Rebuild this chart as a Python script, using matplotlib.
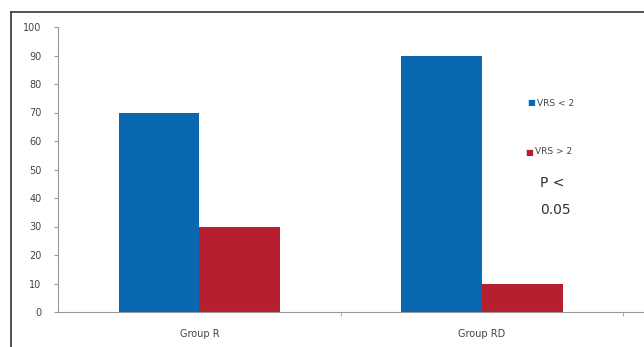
import matplotlib
matplotlib.use('Agg')
import matplotlib.pyplot as plt
from matplotlib.lines import Line2D
import numpy as np

groups = ['Group R', 'Group RD']
vrs_low = [70, 90]
vrs_high = [30, 10]
series_names = ['VRS < 2', 'VRS > 2']
y_ticks = list(range(0, 101, 10))

blue = '#0a68b0'
red = '#b71f31'
grey_txt = '#444444'

fig = plt.figure(figsize=(6.44, 3.47), dpi=100)
fig.patch.set_facecolor('white')

# outer frame: only its top and left edges fall inside the picture
fx, fy = 11 / 644, 1 - 12 / 347
fig.add_artist(Line2D([fx, fx], [0, fy], transform=fig.transFigure,
                      color='#444444', linewidth=1.3))
fig.add_artist(Line2D([fx, 1], [fy, fy], transform=fig.transFigure,
                      color='#444444', linewidth=1.3))

ax = fig.add_axes([58 / 644, 1 - 312 / 347, 1 - 58 / 644, (312 - 27) / 347])

x = np.arange(len(groups))
w = 0.285
ax.bar(x - w / 2, vrs_low, width=w, color=blue, label=series_names[0])
ax.bar(x + w / 2, vrs_high, width=w, color=red, label=series_names[1])

ax.set_ylim(0, 100)
ax.set_xlim(-0.5, 1.573)
ax.set_yticks(y_ticks)
ax.set_yticklabels([str(v) for v in y_ticks], fontsize=7, color=grey_txt)
ax.set_xticks(x)
ax.set_xticklabels(groups, fontsize=7, color=grey_txt)
ax.set_xticks([0.5, 1.5], minor=True)
ax.tick_params(axis='x', which='major', length=0, pad=12)
ax.tick_params(axis='x', which='minor', length=3, color='#999999', direction='out')
ax.tick_params(axis='y', length=3, color='#999999', pad=9)

for s in ['top', 'right']:
    ax.spines[s].set_visible(False)
ax.spines['left'].set_color('#999999')
ax.spines['bottom'].set_color('#999999')
ax.spines['left'].set_bounds(0, 100)

# legend entries
fig.text(527 / 644, 1 - 103 / 347, '\u25a0', color=blue, fontsize=6, va='center')
fig.text(537 / 644, 1 - 103 / 347, series_names[0], color=grey_txt, fontsize=6.5, va='center')
fig.text(525 / 644, 1 - 152 / 347, '\u25a0', color=red, fontsize=6, va='center')
fig.text(535 / 644, 1 - 152 / 347, series_names[1], color=grey_txt, fontsize=6.5, va='center')

fig.text(540 / 644, 1 - 183 / 347, 'P <', color='#333333', fontsize=10, va='center')
fig.text(540 / 644, 1 - 210 / 347, '0.05', color='#333333', fontsize=10, va='center')

fig.savefig('out.png', dpi=100, facecolor='white')
plt.close(fig)
